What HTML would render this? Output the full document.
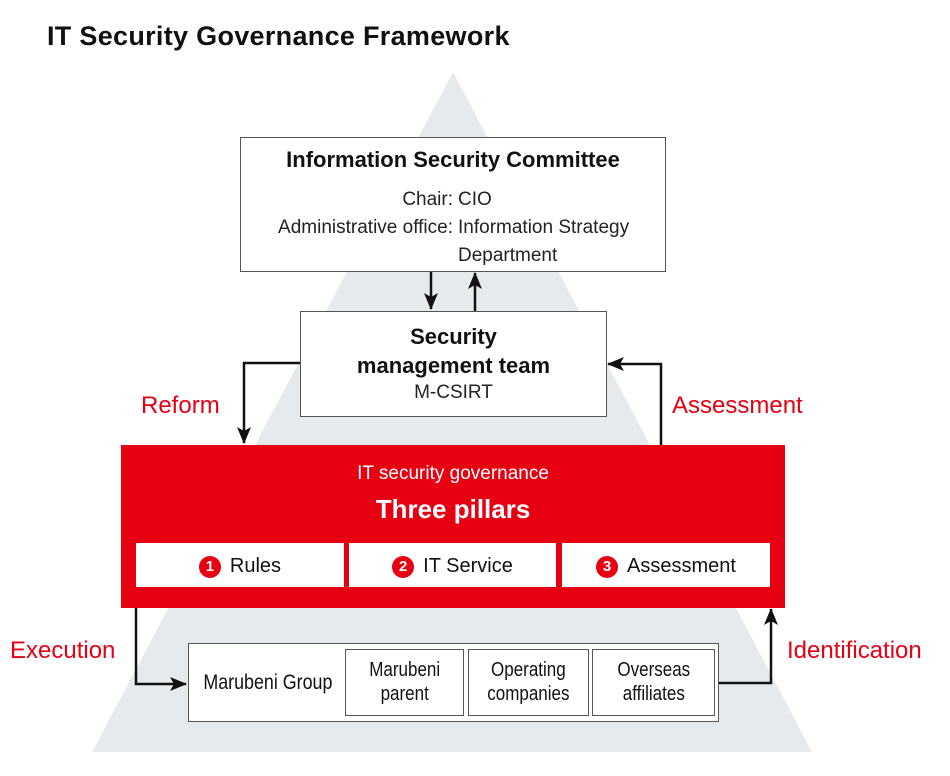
<!DOCTYPE html>
<html><head><style>
body{margin:0;width:950px;height:776px;background:#fff;position:relative;font-family:"Liberation Sans",Arial,sans-serif;overflow:hidden}
.a{position:absolute}
.box{position:absolute;background:#fff;border:1.5px solid #555;box-sizing:border-box}
.c{text-align:center}
.red{color:#e60012}
.p{position:absolute;top:543px;height:44px;background:#fff;font-size:20px;line-height:47px;text-align:center;color:#111}
.n{display:inline-block;width:22px;height:22px;border-radius:50%;background:#e60012;color:#fff;font-size:15px;line-height:22px;font-weight:bold;margin-right:9px;vertical-align:1px}
.ib{position:absolute;top:649px;height:67px;border:1.5px solid #555;box-sizing:border-box;background:#fff;font-size:20px;line-height:24px;text-align:center;padding-top:8px;color:#111}
.ib span{display:inline-block;transform:scaleX(.85)}
</style></head><body>
<svg class="a" style="left:0;top:0" width="950" height="776">
<polygon points="453,72 92,752 812,752" fill="#e7eaed"/>
<defs>
<marker id="m2" markerWidth="18" markerHeight="14" refX="16" refY="7" orient="auto" markerUnits="userSpaceOnUse"><path d="M0,0 L17,7 L0,14 L4,7z" fill="#111"/></marker></defs>
<g stroke="#111" stroke-width="2.5" fill="none">
<line x1="431" y1="271" x2="431" y2="309" marker-end="url(#m2)"/>
<line x1="475" y1="311" x2="475" y2="273" marker-end="url(#m2)"/>
<polyline points="300,363 244,363 244,443" marker-end="url(#m2)"/>
<polyline points="661,445 661,364 608,364" marker-end="url(#m2)"/>
<polyline points="136,607 136,684 186,684" marker-end="url(#m2)"/>
<polyline points="718,683 771,683 771,609" marker-end="url(#m2)"/>
</g></svg>
<div class="a" style="left:47px;top:21px;font-size:27px;font-weight:bold;color:#111;letter-spacing:0.3px">IT Security Governance Framework</div>
<div class="box" style="left:240px;top:137px;width:426px;height:135px">
<div class="c" style="font-size:22px;font-weight:bold;margin-top:9px;color:#111">Information Security Committee</div>
<div class="a" style="left:0;top:48px;width:212px;text-align:right;font-size:19px;line-height:28px;color:#222">Chair:<br>Administrative office:</div>
<div class="a" style="left:217px;top:48px;font-size:19px;line-height:28px;color:#222">CIO<br>Information Strategy<br>Department</div>
</div>
<div class="box c" style="left:300px;top:311px;width:307px;height:106px">
<div style="font-size:22px;font-weight:bold;line-height:29px;margin-top:10px;color:#111">Security<br>management team</div>
<div style="font-size:19px;margin-top:2px;color:#222">M-CSIRT</div>
</div>
<div class="a red" style="left:141px;top:392px;font-size:24px">Reform</div>
<div class="a red" style="left:672px;top:392px;font-size:24px">Assessment</div>
<div class="a red" style="left:10px;top:637px;font-size:24px">Execution</div>
<div class="a red" style="left:787px;top:637px;font-size:24px">Identification</div>
<div class="a" style="left:121px;top:445px;width:664px;height:163px;background:#e60012;color:#fff;text-align:center">
<div style="font-size:19px;margin-top:18px">IT security governance</div>
<div style="font-size:26px;font-weight:bold;margin-top:9px">Three pillars</div>
</div>
<div class="p" style="left:136px;width:208px"><span class="n">1</span>Rules</div>
<div class="p" style="left:349px;width:207px"><span class="n">2</span>IT Service</div>
<div class="p" style="left:562px;width:208px"><span class="n">3</span>Assessment</div>
<div class="box" style="left:188px;top:643px;width:531px;height:79px"></div>
<div class="a" style="left:188px;top:671px;width:160px;font-size:21px;text-align:center;color:#111"><span style="display:inline-block;transform:scaleX(.85)">Marubeni&nbsp;Group</span></div>
<div class="ib" style="left:345px;width:119px"><span>Marubeni<br>parent</span></div>
<div class="ib" style="left:468px;width:121px"><span>Operating<br>companies</span></div>
<div class="ib" style="left:592px;width:123px"><span>Overseas<br>affiliates</span></div>
</body></html>
